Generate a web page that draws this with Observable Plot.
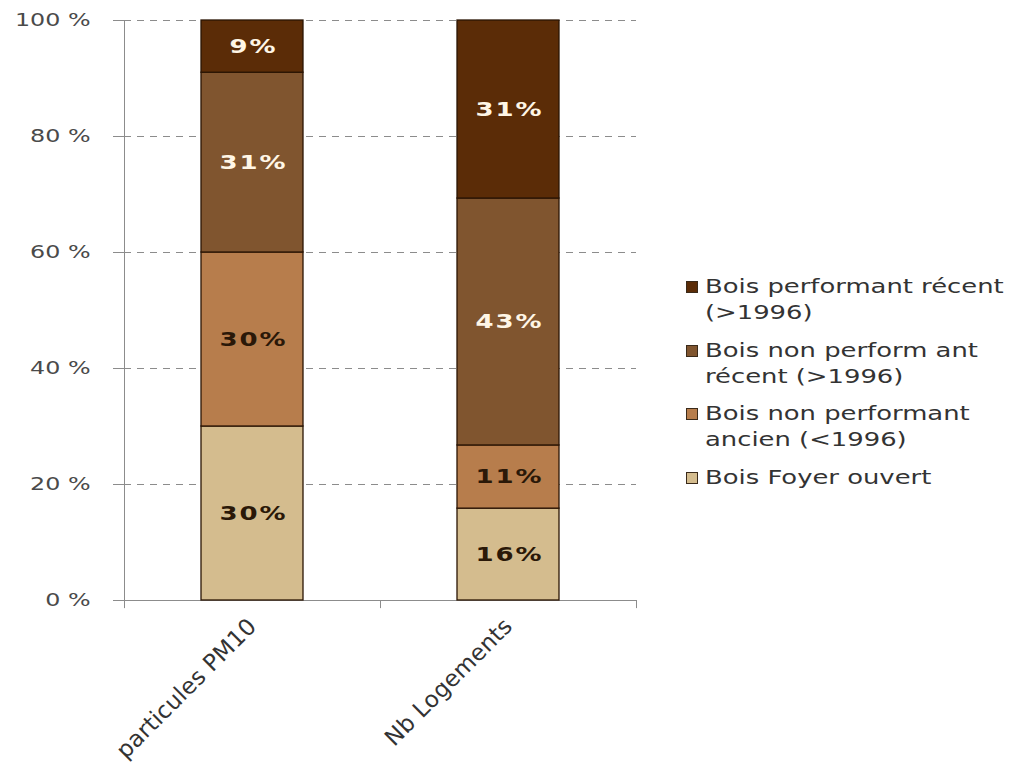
<!DOCTYPE html>
<html>
<head>
<meta charset="utf-8">
<script src="https://cdn.jsdelivr.net/npm/d3@7"></script>
<script src="https://cdn.jsdelivr.net/npm/@observablehq/plot@0.6"></script>
<style>
  html, body { margin: 0; padding: 0; background: #fff; }
  #wrap { position: relative; width: 1012px; height: 773px; overflow: hidden; }
  #legend { position: absolute; left: 685px; top: 0; font-family: "DejaVu Sans", Verdana, sans-serif; font-size: 19px; color: #333; }
  .item { position: absolute; left: 0; width: 330px; line-height: 26px; }
  .txt { display: block; margin-left: 20px; white-space: pre; transform: scaleX(1.36); transform-origin: 0 0; }
  .sw { position: absolute; left: 1px; top: 8px; width: 10px; height: 10px; border: 1px solid #3a2a1a; }
  g[aria-label="text"] text { letter-spacing: 1.5px; }
  g[aria-label="x-axis tick label"] text { letter-spacing: 0.2px; }
</style>
</head>
<body>
<div id="wrap"><div id="legend"></div></div>
<script>
const categories = ["particules PM10", "Nb Logements"];
const series = [
  "Bois Foyer ouvert",
  "Bois non performant ancien (<1996)",
  "Bois non performant récent (>1996)",
  "Bois performant récent (>1996)"
];
const pm10Values = [30, 30, 31, 9];
const logementValues = [16, 11, 43, 31];
const seriesColors = ["#d4bc8e", "#b77d4c", "#80552f", "#5b2c07"];
const labelColors = ["#2a1808", "#2a1808", "#fff6e6", "#fff6e6"];
const yTicks = [0, 0.2, 0.4, 0.6, 0.8, 1];
const legendOrder = [3, 2, 1, 0];
const legendLabels = [
  "Bois Foyer ouvert",
  "Bois non performant\nancien (<1996)",
  "Bois non perform ant\nrécent (>1996)",
  "Bois performant récent\n(>1996)"
];

const valuesByCategory = [pm10Values, logementValues];
const data = [];
categories.forEach((c, ci) => {
  series.forEach((s, si) => {
    data.push({category: c, series: s, value: valuesByCategory[ci][si], labelColor: labelColors[si]});
  });
});

const W = 1012, H = 773, ml = 124, mr = 376, mt = 20, mb = 173;
const step = (W - ml - mr) / categories.length;

const chart = Plot.plot({
  width: W,
  height: H,
  marginLeft: ml,
  marginRight: mr,
  marginTop: mt,
  marginBottom: mb,
  style: {fontFamily: "DejaVu Sans, Verdana, sans-serif", background: "transparent"},
  x: {domain: categories, paddingInner: 0.6, paddingOuter: 0.3, label: null},
  y: {domain: [0, 1], label: null},
  color: {domain: series, range: seriesColors},
  marks: [
    Plot.ruleY(yTicks.slice(1), {stroke: "#8c8c8c", strokeDasharray: "7,6", strokeWidth: 1}),
    Plot.axisY({
      ticks: yTicks,
      tickFormat: d => Math.round(d * 100) + " %",
      tickSize: 11,
      tickPadding: 23,
      stroke: "#8c8c8c",
      fontSize: 17,
      fill: "#4a4a4a",
      label: null
    }),
    Plot.ruleX([categories[0]], {x: d => d, dx: -step / 2, y1: -0.014, y2: 1, stroke: "#8c8c8c"}),
    Plot.ruleX(categories, {x: d => d, dx: step / 2, y1: -0.014, y2: 0, stroke: "#8c8c8c"}),
    Plot.ruleY([0], {stroke: "#8c8c8c"}),
    Plot.barY(data, Plot.stackY({
      x: "category",
      y: "value",
      fill: "series",
      offset: "normalize",
      stroke: "#2a1404",
      strokeWidth: 1.3
    })),
    Plot.text(data, Plot.stackY({
      x: "category",
      y: "value",
      offset: "normalize",
      text: d => d.value + "%",
      fill: d => d.labelColor,
      fontSize: 20,
      fontWeight: "bold",
      dx: 1
    })),
    Plot.axisX({
      tickSize: 0,
      tickRotate: -45,
      tickPadding: 22,
      fontSize: 23,
      fill: "#333",
      label: null
    })
  ]
});

function stretch(selector, k) {
  chart.querySelectorAll(selector).forEach(t => {
    const tr = t.getAttribute("transform") || "";
    t.setAttribute("transform", `${tr} scale(${k},1)`);
  });
}
stretch('g[aria-label="text"] text', 1.3);
stretch('g[aria-label="y-axis tick label"] text', 1.4);

document.getElementById("wrap").prepend(chart);

const legend = document.getElementById("legend");
const tops = [273, 337, 400, 464];
legendOrder.forEach((si, k) => {
  const item = document.createElement("div");
  item.className = "item";
  item.style.top = tops[k] + "px";
  const sw = document.createElement("span");
  sw.className = "sw";
  sw.style.background = seriesColors[si];
  item.appendChild(sw);
  const txt = document.createElement("span");
  txt.className = "txt";
  txt.textContent = legendLabels[si];
  item.appendChild(txt);
  legend.appendChild(item);
});
</script>
</body>
</html>
